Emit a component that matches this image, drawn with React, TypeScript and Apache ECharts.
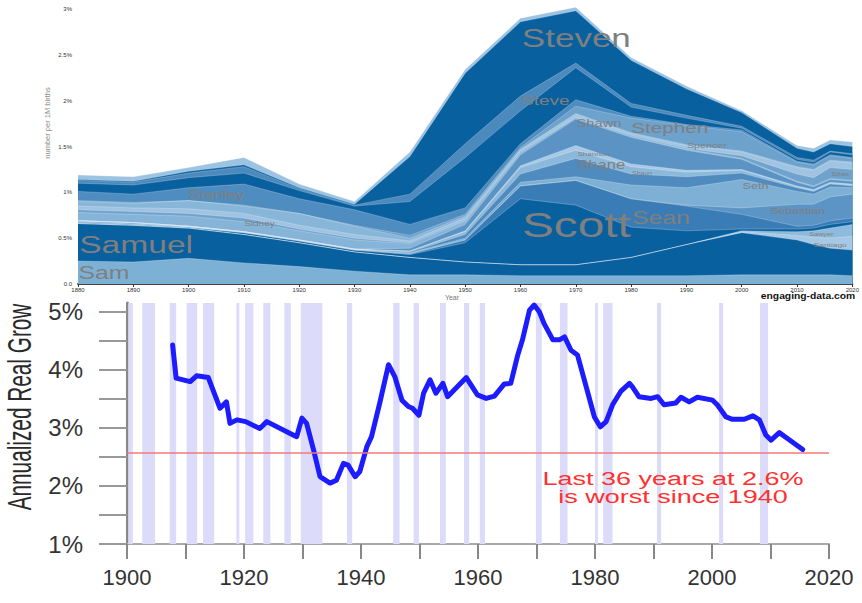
import React, { useEffect, useRef } from "react";
import * as echarts from "echarts";

// ---------- TOP CHART: stacked name popularity (thousands per 1M births) ----------
const stackYears = [1880, 1890, 1900, 1910, 1920, 1930, 1940, 1950, 1960, 1970, 1980, 1990, 2000, 2010, 2013, 2016, 2020];

const sam = [2.5, 2.4, 2.8, 2.3, 1.9, 1.4, 1.0, 1.0, 0.9, 0.9, 0.9, 0.9, 1.0, 1.0, 1.0, 1.0, 0.9];
const samuel = [4.1, 4.0, 3.3, 3.1, 2.6, 2.1, 1.9, 1.4, 1.2, 1.2, 2.0, 3.4, 4.6, 3.8, 3.3, 2.9, 2.8];
const santiago = [0, 0, 0, 0, 0, 0, 0, 0, 0, 0, 0, 0, 0.1, 0.5, 0.8, 1.1, 1.5];
const sawyer = [0, 0, 0, 0, 0, 0, 0, 0, 0, 0, 0, 0, 0.1, 0.4, 0.7, 1.1, 1.3];
const scott = [0.1, 0.1, 0.1, 0.2, 0.2, 0.2, 0.3, 2.1, 7.2, 6.5, 3.3, 1.5, 0.2, 0.3, 0.3, 0.4, 0.3];
const sean = [0, 0, 0, 0, 0, 0, 0.1, 0.3, 1.4, 2.7, 3.1, 2.7, 1.6, 0.3, 0.3, 0.4, 0.4];
const sebastian = [0, 0, 0, 0, 0, 0, 0, 0, 0, 0, 0, 0.1, 0.7, 2.4, 2.3, 2.6, 2.6];
const seth = [0.2, 0.2, 0.1, 0.1, 0.1, 0.1, 0.1, 0.2, 0.4, 0.4, 1.5, 1.9, 3.1, 1.4, 1.1, 1.1, 0.7];
const shane = [0, 0, 0, 0, 0, 0, 0.1, 0.4, 0.9, 2.0, 1.2, 1.2, 0.7, 0.4, 0.3, 0.3, 0.2];
const shannon = [0, 0, 0, 0, 0, 0, 0.1, 0.3, 0.7, 0.9, 0.8, 0.5, 0.3, 0.1, 0.1, 0.1, 0.1];
const shaun = [0, 0, 0, 0, 0, 0, 0, 0.1, 0.2, 0.5, 0.3, 0.2, 0.1, 0.1, 0.1, 0.1, 0.1];
const shawn = [0, 0, 0, 0, 0, 0, 0.3, 0.7, 1.2, 2.9, 2.9, 2.2, 1.1, 0.4, 0.3, 0.3, 0.3];
const sidney = [0.9, 0.9, 1.1, 1.1, 1.0, 1.0, 0.5, 0.3, 0.2, 0.2, 0.1, 0.1, 0.1, 0.1, 0.1, 0.1, 0.1];
const silas = [0.3, 0.3, 0.3, 0.4, 0.2, 0.2, 0.1, 0.1, 0.1, 0, 0.1, 0.1, 0.3, 0.8, 0.9, 1.2, 1.2];
const simon = [0.4, 0.4, 0.5, 0.5, 0.4, 0.4, 0.2, 0.3, 0.2, 0.3, 0.2, 0.3, 0.4, 0.7, 0.8, 0.7, 0.7];
const solomon = [0.5, 0.5, 0.9, 0.8, 1.3, 0.9, 0.3, 0.2, 0.1, 0.1, 0.1, 0.1, 0.1, 0.1, 0.1, 0.1, 0.1];
const spencer = [0.1, 0.1, 0, 0.1, 0, 0.1, 0.3, 0.2, 0.2, 0.8, 1.6, 2.1, 2.1, 0.5, 0.5, 0.5, 0.4];
const stanley = [1.0, 0.9, 1.4, 2.3, 1.6, 1.7, 1.2, 0.7, 0.4, 0.7, 0.2, 0.1, 0.2, 0.1, 0.1, 0.1, 0.1];
const stephen = [0.9, 1.0, 1.1, 1.2, 0.9, 0.4, 2.5, 5.5, 3.6, 3.5, 1.0, 0.7, 0.2, 0.2, 0.2, 0.3, 0.3];
const steve = [0.3, 0.3, 0.5, 0.7, 0.2, 0.1, 0.8, 1.5, 1.6, 0.5, 0.4, 0.3, 0.2, 0.2, 0.2, 0.1, 0.1];
const steven = [0.1, 0.1, 0.2, 0.2, 0.1, 0.1, 4.1, 7.7, 8.1, 5.7, 4.7, 2.9, 1.5, 1.0, 0.9, 0.8, 0.8];
const stuart = [0.5, 0.5, 0.4, 0.8, 0.4, 0.3, 0.5, 0.4, 0.4, 0.4, 0.3, 0.3, 0.2, 0.3, 0.4, 0.4, 0.5];

const stackTicks = [0, 5, 10, 15, 20, 25, 30];

// name labels: [text, year, value, font size]
const nameLabels: [string, number, number, number][] = [
  ["Steven", 1970.1, 26.8, 35],
  ["Steve", 1964.5, 20.0, 19],
  ["Shawn", 1974.2, 17.5, 14.7],
  ["Stephen", 1987.0, 17.0, 20.7],
  ["Spencer", 1993.7, 15.1, 10.7],
  ["Shannon", 1973.2, 14.2, 8],
  ["Shane", 1974.6, 13.0, 16.6],
  ["Shaun", 1982.0, 12.1, 7],
  ["Seth", 2002.5, 10.7, 12.6],
  ["Sebastian", 2010.1, 8.0, 12.4],
  ["Silas", 2017.8, 12.0, 8.3],
  ["Sawyer", 2014.4, 5.5, 7.2],
  ["Santiago", 2016.0, 4.3, 8.4],
  ["Scott", 1970.1, 6.4, 47.8],
  ["Sean", 1985.4, 7.2, 24.8],
  ["Stanley", 1905.0, 9.7, 16.8],
  ["Sidney", 1912.8, 6.6, 10],
  ["Samuel", 1890.5, 4.3, 33.6],
  ["Sam", 1884.7, 1.2, 24.8],
];

// ---------- BOTTOM CHART: annualized real growth ----------
const growthYears = [1907.8, 1908.4, 1910.8, 1911.9, 1913.9, 1915.9, 1917.0, 1917.6, 1918.8, 1920.3, 1922.7, 1923.9, 1928.4, 1929.0, 1929.9, 1930.7, 1931.9, 1933.0, 1934.7, 1935.8, 1937.0, 1937.8, 1939.0, 1939.8, 1941.0, 1941.8, 1943.2, 1944.7, 1945.8, 1947.0, 1948.1, 1948.8, 1949.9, 1950.7, 1951.8, 1952.8, 1954.0, 1954.8, 1958.0, 1959.9, 1961.4, 1962.8, 1964.5, 1965.6, 1966.8, 1967.6, 1968.8, 1969.6, 1970.5, 1971.3, 1972.8, 1973.9, 1974.8, 1975.9, 1977.0, 1978.5, 1979.9, 1980.9, 1981.9, 1983.0, 1984.4, 1985.9, 1986.4, 1987.5, 1989.6, 1990.7, 1991.8, 1993.8, 1994.7, 1996.1, 1997.5, 2000.1, 2000.9, 2002.4, 2003.5, 2005.5, 2007.0, 2008.1, 2009.2, 2010.1, 2011.5, 2012.9, 2015.5];
const growthValues = [4.43, 3.86, 3.80, 3.90, 3.87, 3.34, 3.45, 3.08, 3.14, 3.11, 2.99, 3.11, 2.88, 2.85, 3.17, 3.08, 2.62, 2.16, 2.05, 2.10, 2.39, 2.36, 2.16, 2.25, 2.68, 2.85, 3.43, 4.09, 3.88, 3.48, 3.37, 3.34, 3.22, 3.60, 3.83, 3.60, 3.77, 3.54, 3.87, 3.57, 3.51, 3.55, 3.76, 3.77, 4.26, 4.52, 5.03, 5.12, 5.00, 4.80, 4.52, 4.52, 4.57, 4.34, 4.26, 3.71, 3.19, 3.02, 3.11, 3.40, 3.63, 3.77, 3.71, 3.54, 3.51, 3.54, 3.40, 3.43, 3.53, 3.45, 3.53, 3.48, 3.40, 3.19, 3.15, 3.15, 3.21, 3.14, 2.88, 2.79, 2.92, 2.82, 2.63];
const recessionStarts = [1900.2, 1902.6, 1907.3, 1910.2, 1913.0, 1918.7, 1920.2, 1923.3, 1926.9, 1929.7, 1937.6, 1945.5, 1949.0, 1953.5, 1957.6, 1960.3, 1969.9, 1974.0, 1980.0, 1981.4, 1990.6, 2001.2, 2008.2];
const recessionEnds = [1901.0, 1904.8, 1908.4, 1912.0, 1914.9, 1919.2, 1921.6, 1924.5, 1928.0, 1933.4, 1938.5, 1946.6, 1949.9, 1954.5, 1958.5, 1961.2, 1970.9, 1975.3, 1980.5, 1983.0, 1991.3, 2001.9, 2009.6];
const recentAverage = 2.57;
const growthTickValues = [1, 1.5, 2, 2.5, 3, 3.5, 4, 4.5, 5];
const growthLabelValues = [1, 2, 3, 4, 5];

const FONT = "'Liberation Sans', Arial, sans-serif";

// bottom-to-top stacking order
const stackSeriesDefs: [string, number[], string][] = [
  ["Sam", sam, "#7db0d5"],
  ["Samuel", samuel, "#08609f"],
  ["Santiago", santiago, "#a6c8e4"],
  ["Sawyer", sawyer, "#8ebbdd"],
  ["Scott", scott, "#08609f"],
  ["Sean", sean, "#3a7db6"],
  ["Sebastian", sebastian, "#5b94c5"],
  ["Seth", seth, "#7eb0d6"],
  ["Shane", shane, "#4f8bbe"],
  ["Shannon", shannon, "#8cb9db"],
  ["Shaun", shaun, "#a8c9e5"],
  ["Shawn", shawn, "#5a93c4"],
  ["Sidney", sidney, "#86b4d8"],
  ["Silas", silas, "#6fa3ce"],
  ["Simon", simon, "#9fc3e1"],
  ["Solomon", solomon, "#88b6d9"],
  ["Spencer", spencer, "#6da2cd"],
  ["Stanley", stanley, "#4f8cbf"],
  ["Stephen", stephen, "#08609f"],
  ["Steve", steve, "#4c89bc"],
  ["Steven", steven, "#08609f"],
  ["Stuart", stuart, "#9dc3e2"],
];

export default function App() {
  const ref = useRef<HTMLDivElement>(null);

  useEffect(() => {
    if (!ref.current) return;
    const chart = echarts.init(ref.current, null, { renderer: "svg" });

    // running totals (stack tops), then drawn top layer first so lower layers cover it
    const running = stackYears.map(() => 0);
    const stacked = stackSeriesDefs.map(([name, vals, color]) => {
      const tops = vals.map((v, i) => {
        running[i] = Math.round((running[i] + v) * 100) / 100;
        return running[i];
      });
      return { name, tops, color };
    });
    const stackSeries = stacked
      .slice()
      .reverse()
      .map(({ name, tops, color }) => ({
        name,
        type: "line",
        xAxisIndex: 0,
        yAxisIndex: 0,
        symbol: "none",
        clip: false,
        data: stackYears.map((y, i) => [y, tops[i]]),
        lineStyle: { width: 0.8, color: "rgba(255,255,255,0.3)" },
        areaStyle: { color, opacity: 1 },
        itemStyle: { color },
        z: 2,
      }));

    const option: any = {
      animation: false,
      backgroundColor: "#ffffff",
      grid: [
        { left: 78, top: 9, width: 777, height: 275 },
        { left: 127, top: 303, width: 702, height: 241 },
      ],
      xAxis: [
        {
          type: "value",
          gridIndex: 0,
          min: 1880,
          max: 2020,
          interval: 10,
          splitLine: { show: false },
          axisLine: { show: true, lineStyle: { color: "#444", width: 2 } },
          axisTick: { show: true, length: 3, lineStyle: { color: "#333" } },
          axisLabel: { fontSize: 6, color: "#333", margin: 3, fontFamily: FONT, formatter: (v: number) => String(v) },
        },
        {
          type: "value",
          gridIndex: 1,
          min: 1900,
          max: 2020,
          interval: 10,
          splitLine: { show: false },
          axisLine: { show: true, lineStyle: { color: "#aaa", width: 2 } },
          axisTick: { show: true, length: 15, lineStyle: { color: "#888", width: 2 } },
          axisLabel: {
            fontSize: 22,
            color: "#333",
            margin: 22,
            fontFamily: FONT,
            formatter: (v: number) => (v % 20 === 0 ? String(v) : ""),
          },
        },
      ],
      yAxis: [
        {
          type: "value",
          gridIndex: 0,
          min: 0,
          max: 30,
          interval: 5,
          splitLine: { show: false },
          axisLine: { show: false },
          axisTick: { show: false },
          axisLabel: {
            fontSize: 6,
            color: "#333",
            margin: 6,
            fontFamily: FONT,
            customValues: stackTicks,
            formatter: (v: number) => (v === 0 ? "0.0" : v / 10 + "%"),
          },
        },
        {
          type: "value",
          gridIndex: 1,
          min: 1,
          max: 5.155,
          splitLine: { show: false },
          axisLine: { show: true, lineStyle: { color: "#888", width: 3 } },
          axisTick: { show: true, length: 28, customValues: growthTickValues, lineStyle: { color: "#999", width: 2 } },
          axisLabel: {
            fontSize: 24,
            color: "#333",
            margin: 44,
            fontFamily: FONT,
            customValues: growthLabelValues,
            formatter: (v: number) => v + "%",
          },
        },
      ],
      series: [
        ...stackSeries,
        {
          name: "recessions",
          type: "line",
          xAxisIndex: 1,
          yAxisIndex: 1,
          data: [],
          silent: true,
          z: 1,
          markArea: {
            silent: true,
            itemStyle: { color: "#dcdcfa" },
            data: recessionStarts.map((s, i) => [{ xAxis: s }, { xAxis: recessionEnds[i] }]),
          },
        },
        {
          name: "average",
          type: "line",
          xAxisIndex: 1,
          yAxisIndex: 1,
          data: [],
          silent: true,
          z: 2,
          markLine: {
            silent: true,
            symbol: ["none", "none"],
            label: { show: false },
            lineStyle: { color: "#f27a7a", width: 1.5, type: "solid" },
            data: [{ yAxis: recentAverage }],
          },
        },
        {
          name: "growth",
          type: "line",
          xAxisIndex: 1,
          yAxisIndex: 1,
          symbol: "none",
          z: 3,
          data: growthYears.map((y, i) => [y, growthValues[i]]),
          lineStyle: { color: "#1c1cff", width: 5, cap: "round", join: "round" },
          itemStyle: { color: "#1c1cff" },
        },
      ],
    };
    chart.setOption(option);

    const labelEls = nameLabels.map(([text, yr, val, size]) => {
      const [px, py] = chart.convertToPixel({ gridIndex: 0 }, [yr, val]) as number[];
      return {
        type: "text",
        x: px,
        y: py,
        scaleY: 0.72,
        z: 50,
        style: {
          text,
          fill: "#7f7f7f",
          font: `${size}px ${FONT}`,
          align: "center",
          verticalAlign: "middle",
        },
      };
    });

    const staticEls: any[] = [
      {
        type: "text",
        x: 47,
        y: 123,
        rotation: Math.PI / 2,
        z: 50,
        style: { text: "number per 1M births", fill: "#888", font: `7.5px ${FONT}`, align: "center", verticalAlign: "middle" },
      },
      {
        type: "text",
        x: 452,
        y: 297,
        z: 50,
        style: { text: "Year", fill: "#777", font: `7px ${FONT}`, align: "center", verticalAlign: "middle" },
      },
      {
        type: "text",
        x: 808,
        y: 296,
        z: 50,
        scaleY: 0.8,
        style: { text: "engaging-data.com", fill: "#111", font: `bold 10.3px ${FONT}`, align: "center", verticalAlign: "middle" },
      },
      {
        type: "text",
        x: 20,
        y: 407,
        rotation: Math.PI / 2,
        scaleX: 0.63,
        z: 50,
        style: { text: "Annualized Real Grow", fill: "#2a2a2a", font: `33px ${FONT}`, align: "center", verticalAlign: "middle" },
      },
      {
        type: "text",
        x: 673,
        y: 479,
        scaleY: 0.68,
        z: 50,
        style: { text: "Last 36 years at 2.6%", fill: "#ff3030", font: `27px ${FONT}`, align: "center", verticalAlign: "middle" },
      },
      {
        type: "text",
        x: 673,
        y: 497,
        scaleY: 0.68,
        z: 50,
        style: { text: "is worst since 1940", fill: "#ff3030", font: `27px ${FONT}`, align: "center", verticalAlign: "middle" },
      },
    ];

    chart.setOption({ graphic: { elements: [...staticEls, ...labelEls] } });

    return () => chart.dispose();
  }, []);

  return (
    <div
      ref={ref}
      style={{ position: "absolute", left: 0, top: 0, width: 862, height: 603, background: "#fff" }}
    />
  );
}
